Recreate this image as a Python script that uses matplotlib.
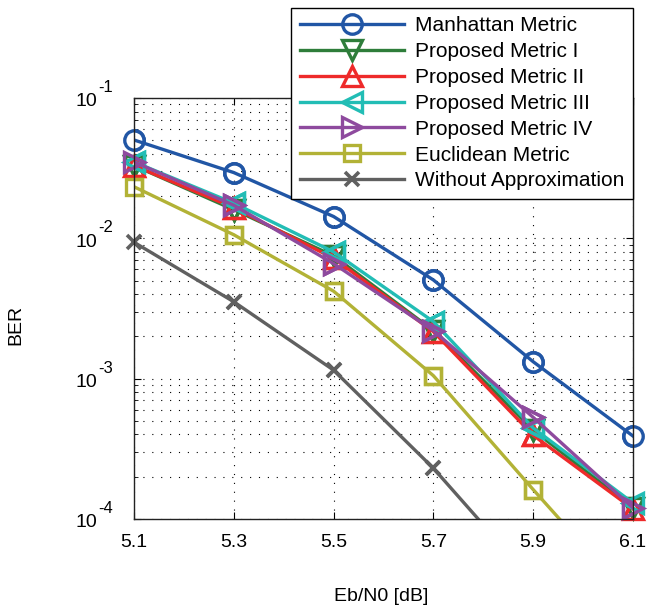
import numpy as np
import matplotlib
matplotlib.use("Agg")
import matplotlib.pyplot as plt
from matplotlib.ticker import LogLocator, NullFormatter
import matplotlib.transforms as mtransforms

plt.rcParams['font.family'] = ['Liberation Sans', 'DejaVu Sans']

ebn0 = [5.1, 5.3, 5.5, 5.7, 5.9, 6.1]

ber_manhattan = [0.0502, 0.0294, 0.0143, 0.00505, 0.00132, 3.9e-4]
ber_prop1 = [0.033, 0.0160, 0.0075, 0.0022, 4.3e-4, 1.2e-4]
ber_prop2 = [0.033, 0.0165, 0.0072, 0.00216, 3.95e-4, 1.18e-4]
ber_prop3 = [0.035, 0.0178, 0.0080, 0.00255, 4.45e-4, 1.3e-4]
ber_prop4 = [0.035, 0.0172, 0.0066, 0.0022, 5.3e-4, 1.2e-4]
ber_euclid = [0.0233, 0.0106, 0.0042, 0.00105, 1.62e-4, 2.6e-5]
ber_exact = [0.00937, 0.00353, 0.00115, 2.3e-4, 3.6e-5, 5e-6]

labels = ["Manhattan Metric", "Proposed Metric I", "Proposed Metric II",
          "Proposed Metric III", "Proposed Metric IV", "Euclidean Metric",
          "Without Approximation"]
yticks = [1e-4, 1e-3, 1e-2, 1e-1]
yexps = ["-4", "-3", "-2", "-1"]
ymin = 1e-4
ymax = 1e-1

fig = plt.figure(figsize=(6.67, 6.07), dpi=100)
ax = fig.add_axes([0.2009, 0.145, 0.7481, 0.6936])

series = [
    (ber_manhattan, 'o', '#2156a5', 14, 2.4, 'none'),
    (ber_prop1, 'v', '#2e7d3a', 15, 2.4, 'none'),
    (ber_prop2, '^', '#ee2a2a', 15, 2.4, 'none'),
    (ber_prop3, '<', '#22bdb5', 15, 2.4, 'none'),
    (ber_prop4, '>', '#8e4a9e', 15, 2.4, 'none'),
    (ber_euclid, 's', '#b2b236', 12, 2.4, 'none'),
    (ber_exact, 'x', '#606060', 10, 2.6, None),
]

for (ber, mk, col, ms, mew, mfc), lab in zip(series, labels):
    kw = dict(color=col, ms=ms, mew=mew)
    if mfc is not None:
        kw['mfc'] = mfc
    ax.semilogy(ebn0, ber, '-' + mk, lw=2.4, label=lab, **kw)
    # markers sitting on the frame are drawn whole (matlab style)
    b = np.array(ber)
    inside = (b >= ymin) & (b <= ymax)
    ax.semilogy(np.array(ebn0)[inside], b[inside], mk, clip_on=False,
                ls='none', **kw)

ax.set_xlim(5.1, 6.1)
ax.set_ylim(ymin, ymax)
ax.set_xticks(ebn0)
ax.set_xticklabels(["5.1", "5.3", "5.5", "5.7", "5.9", "6.1"])
ax.yaxis.set_minor_locator(LogLocator(base=10, subs=np.arange(2, 10), numticks=20))
ax.yaxis.set_minor_formatter(NullFormatter())
ax.set_yticks(yticks)
ax.set_yticklabels([""] * len(yticks))

ax.tick_params(axis='both', which='both', direction='in', top=True, right=True,
               labelsize=14, color='k')
ax.tick_params(axis='both', which='major', length=5, pad=11)
ax.tick_params(axis='y', which='minor', length=3)

# y tick labels drawn as "10" with a big exponent, like matlab
trans = mtransforms.blended_transform_factory(ax.transAxes, ax.transData)
for v, e in zip(yticks, yexps):
    t1 = mtransforms.offset_copy(trans, fig=fig, x=-37, y=-4, units='dots')
    ax.text(0, v, "10", transform=t1, ha='right', va='center', fontsize=14,
            clip_on=False)
    t2 = mtransforms.offset_copy(trans, fig=fig, x=-36, y=6, units='dots')
    ax.text(0, v, e, transform=t2, ha='left', va='baseline', fontsize=12,
            clip_on=False)

dots = (0, (1, 7))
ax.grid(True, which='major', axis='both', linestyle=dots, color='k', lw=0.8)
ax.grid(True, which='minor', axis='y', linestyle=dots, color='k', lw=0.8)

for s in ax.spines.values():
    s.set_linewidth(1.0)
    s.set_color('#222222')

ax.set_xlabel("Eb/N0 [dB]", fontsize=14)
ax.xaxis.set_label_coords(0.496, -0.163)
ax.set_ylabel("BER", fontsize=14)
ax.yaxis.set_label_coords(-0.22, 0.461)

leg = ax.legend(loc='upper right', bbox_to_anchor=(1.0, 1.214), borderaxespad=0,
                fontsize=15, handlelength=5.0, handletextpad=0.55,
                labelspacing=0.33, borderpad=0.4, fancybox=False,
                framealpha=1, edgecolor='k')
leg.get_frame().set_linewidth(1.0)
leg.set_zorder(10)

fig.savefig("out.png", dpi=100)
